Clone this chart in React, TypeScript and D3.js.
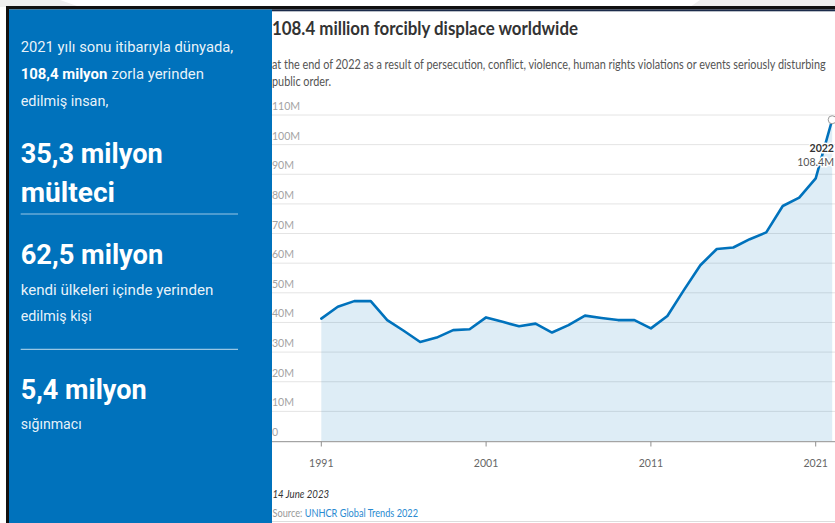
import React from 'react';
import * as d3 from 'd3';

const years = [1991, 1992, 1993, 1994, 1995, 1996, 1997, 1998, 1999, 2000, 2001, 2002, 2003, 2004, 2005, 2006, 2007, 2008, 2009, 2010, 2011, 2012, 2013, 2014, 2015, 2016, 2017, 2018, 2019, 2020, 2021, 2022];
const displacedMillions = [41.3, 45.3, 47.2, 47.2, 40.8, 37.2, 33.4, 34.9, 37.4, 37.7, 41.7, 40.2, 38.7, 39.6, 36.6, 39.1, 42.3, 41.5, 40.8, 40.8, 38.0, 42.2, 50.9, 59.3, 64.8, 65.3, 68.1, 70.4, 79.3, 82.1, 88.6, 108.4];
const yTickValues = [0, 10, 20, 30, 40, 50, 60, 70, 80, 90, 100, 110];
const yTickLabels = ['0', '10M', '20M', '30M', '40M', '50M', '60M', '70M', '80M', '90M', '100M', '110M'];
const xTickValues = [1991, 2001, 2011, 2021];
const xTickLabels = ['1991', '2001', '2011', '2021'];
const chartTitle = '108.4 million forcibly displace worldwide';
const subtitleLines = ['at the end of 2022 as a result of persecution, conflict, violence, human rights violations or events seriously disturbing', 'public order.'];
const endYearLabel = '2022';
const endValueLabel = '108.4M';
const dateLabel = '14 June 2023';
const sourcePrefix = 'Source: ';
const sourceName = 'UNHCR Global Trends 2022';

const W = 835;
const H = 523;
const BLUE = '#0072bc';
const PANEL_FONT = 'Roboto, "Noto Sans", sans-serif';
const CHART_FONT = 'Lato, "Open Sans", sans-serif';

const Sq = ({ x, y, sx = 0.88, children, ...rest }: any) => (
  <text transform={`translate(${x},${y}) scale(${sx},1)`} {...rest}>{children}</text>
);

export default function App() {
  const x = d3.scaleLinear().domain([1991, 2021]).range([321.3, 815.7]);
  const y = d3.scaleLinear().domain([0, 110]).range([441, 115]);
  const pts = years.map((yr, i) => ({ yr, v: displacedMillions[i] }));
  const area = d3.area<any>().x(d => x(d.yr)).y0(y(0)).y1(d => y(d.v))(pts) || '';
  const line = d3.line<any>().x(d => x(d.yr)).y(d => y(d.v))(pts) || '';
  const last = pts[pts.length - 1];

  return (
    <svg width={W} height={H} style={{ position: 'absolute', left: 0, top: 0, display: 'block' }}>
      <rect x={0} y={0} width={W} height={H} fill="#ffffff" />
      {/* page background strip on top */}
      <rect x={0} y={0} width={W} height={7} fill="#efefef" />
      <polygon points={`60,0 700,0 690,7 80,7`} fill="#ffffff" />
      {/* left blue panel */}
      <rect x={6} y={6} width={W - 6} height={3.5} fill="#111111" />
      <rect x={6} y={6} width={3} height={H - 6} fill="#111111" />
      <rect x={9} y={9.5} width={263} height={H - 9.5} fill={BLUE} />
      <rect x={272} y={9.5} width={W - 272} height={1.8} fill="#1b2b4b" />

      {/* panel texts */}
      <g fill="#ffffff" fontFamily={PANEL_FONT}>
        <text x={20.7} y={52.3} fontSize={15} textLength={212.6} lengthAdjust="spacingAndGlyphs" fillOpacity={0.93}>2021 yılı sonu itibarıyla dünyada,</text>
        <text x={20.7} y={79} fontSize={15} fontWeight={700} textLength={86.6} lengthAdjust="spacingAndGlyphs">108,4 milyon</text>
        <text x={111.5} y={79} fontSize={15} textLength={92.5} lengthAdjust="spacingAndGlyphs" fillOpacity={0.93}>zorla yerinden</text>
        <text x={20.7} y={105.7} fontSize={15} textLength={87.6} lengthAdjust="spacingAndGlyphs" fillOpacity={0.93}>edilmiş insan,</text>
        <text x={20.7} y={162.7} fontSize={27} fontWeight={700} textLength={142} lengthAdjust="spacingAndGlyphs">35,3 milyon</text>
        <text x={20.7} y={201.7} fontSize={27} fontWeight={700} textLength={94.3} lengthAdjust="spacingAndGlyphs">mülteci</text>
        <line x1={20.7} x2={238} y1={214} y2={214} stroke="#ffffff" strokeOpacity={0.6} strokeWidth={1} />
        <text x={20.7} y={264} fontSize={27} fontWeight={700} textLength={142.6} lengthAdjust="spacingAndGlyphs">62,5 milyon</text>
        <text x={20.7} y={294.5} fontSize={15} textLength={192.6} lengthAdjust="spacingAndGlyphs" fillOpacity={0.93}>kendi ülkeleri içinde yerinden</text>
        <text x={20.7} y={321} fontSize={15} textLength={71} lengthAdjust="spacingAndGlyphs" fillOpacity={0.93}>edilmiş kişi</text>
        <line x1={20.7} x2={238} y1={349.3} y2={349.3} stroke="#ffffff" strokeOpacity={0.75} strokeWidth={1} />
        <text x={20.7} y={399.3} fontSize={27} fontWeight={700} textLength={126} lengthAdjust="spacingAndGlyphs">5,4 milyon</text>
        <text x={20.7} y={429} fontSize={15} textLength={61} lengthAdjust="spacingAndGlyphs" fillOpacity={0.93}>sığınmacı</text>
      </g>

      {/* chart header */}
      <text x={272} y={35} fontFamily={CHART_FONT} fontSize={18} fontWeight={700} fill="#333333" textLength={306} lengthAdjust="spacingAndGlyphs">{chartTitle}</text>
      <Sq x={272} y={68.5} sx={0.87} fontFamily={CHART_FONT} fontSize={12.5} fill="#555555">{subtitleLines[0]}</Sq>
      <Sq x={272} y={85.5} sx={0.87} fontFamily={CHART_FONT} fontSize={12.5} fill="#555555">{subtitleLines[1]}</Sq>

      {/* gridlines */}
      {yTickValues.filter(v => v > 0).map(v => (
        <line key={v} x1={272} x2={W} y1={y(v)} y2={y(v)} stroke="#e4e4e4" strokeWidth={1} />
      ))}

      {/* area + line */}
      <path d={area} fill={BLUE} fillOpacity={0.13} />
      <path d={line} fill="none" stroke={BLUE} strokeWidth={2.6} strokeLinejoin="round" strokeLinecap="round" />

      {/* y labels */}
      {yTickValues.map((v, i) => (
        <Sq key={v} x={272} y={y(v) - 5} fontFamily={CHART_FONT} fontSize={12} fill="#a3a3a3">{yTickLabels[i]}</Sq>
      ))}

      {/* x axis */}
      <line x1={272} x2={W} y1={441.7} y2={441.7} stroke="#8f8f8f" strokeWidth={1} />
      {xTickValues.map((v, i) => (
        <g key={v}>
          <line x1={x(v)} x2={x(v)} y1={441.7} y2={446.5} stroke="#8f8f8f" strokeWidth={1} />
          <Sq x={x(v)} y={466.5} fontFamily={CHART_FONT} fontSize={12} fill="#666666" textAnchor="middle">{xTickLabels[i]}</Sq>
        </g>
      ))}

      {/* end annotation */}
      <circle cx={x(last.yr)} cy={y(last.v)} r={4} fill="#ffffff" stroke="#9a9a9a" strokeWidth={1} />
      <g fontFamily={CHART_FONT} textAnchor="end" style={{ paintOrder: 'stroke' } as any} stroke="#ffffff" strokeWidth={3} strokeLinejoin="round">
        <Sq x={834} y={151.5} fontSize={12} fontWeight={700} fill="#333333">{endYearLabel}</Sq>
        <Sq x={834} y={166} fontSize={12} fill="#555555">{endValueLabel}</Sq>
      </g>

      {/* footer */}
      <Sq x={272.5} y={497.5} fontFamily={CHART_FONT} fontSize={11} fontStyle="italic" fill="#333333">{dateLabel}</Sq>
      <Sq x={272.5} y={516.5} sx={0.835} fontFamily={CHART_FONT} fontSize={11} fill="#999999">
        <tspan>{sourcePrefix}</tspan>
        <tspan fill="#2a8bd1">{sourceName}</tspan>
      </Sq>
      <line x1={272} x2={W} y1={521.5} y2={521.5} stroke="#dddddd" strokeWidth={1} />
    </svg>
  );
}
